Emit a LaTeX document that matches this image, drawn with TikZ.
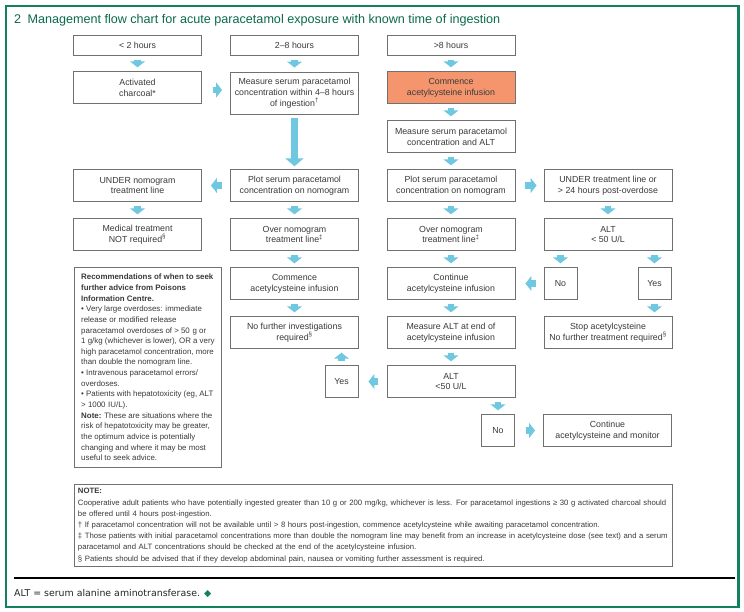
\documentclass[tikz,border=0pt]{standalone}
\usepackage{fontspec}
\setmainfont{Liberation Sans}
\newfontfamily\footfont{DejaVu Sans}
\usetikzlibrary{arrows.meta,calc}
\definecolor{frameg}{HTML}{13805F}
\definecolor{titleg}{HTML}{0B6A4E}
\definecolor{ablue}{HTML}{70C8E0}
\definecolor{boxline}{HTML}{707070}
\definecolor{txt}{HTML}{3A3A3A}
\definecolor{orangef}{HTML}{F5956E}
\begin{document}
\begin{tikzpicture}[x=1pt,y=-1pt,
  box/.style={draw=boxline, line width=0.9pt, fill=white, text=txt, align=center,
    minimum width=128pt, minimum height=31.5pt, inner sep=1pt,
    font=\fontsize{8.8}{10.8}\selectfont},
  smallbox/.style={box, minimum width=33pt},
  blk/.style={ablue, line width=6.5pt, -{Triangle[width=15pt,length=6pt]}},
  bigblk/.style={ablue, line width=7pt, -{Triangle[width=18pt,length=8pt]}},
  textbox/.style={draw=boxline, line width=0.9pt, fill=white, text=txt, align=left, anchor=north west}
]
\useasboundingbox (0,0) rectangle (744,611);
\fill[white] (0,0) rectangle (744,611);
% frame
\draw[frameg, line width=1.5pt] (6,6) rectangle (738,607);
\draw[frameg, line width=3pt] (738.5,5.25) -- (738.5,607.75);

\node[anchor=west, text=titleg, font=\fontsize{12.6}{14}\selectfont, inner sep=0pt] (title) at (14,20)
  {2\hspace{0.5em}Management flow chart for acute paracetamol exposure with known time of ingestion};

% row 1
\node[box, minimum height=20pt] (a1) at (137.5,45) {< 2 hours};
\node[box, minimum height=20pt] (b1) at (294.5,45) {2--8 hours};
\node[box, minimum height=20pt] (c1) at (451,45) {>8 hours};
% row 2
\node[box] (a2) at (137.5,87.5) {Activated\\charcoal*};
\node[box, minimum height=42pt] (b2) at (294.5,93) {Measure serum paracetamol\\concentration within 4--8 hours\\of ingestion\textsuperscript{†}};
\node[box, fill=orangef] (c2) at (451,87.5) {Commence\\acetylcysteine infusion};
% row 3
\node[box] (c3) at (451,136.5) {Measure serum paracetamol\\concentration and ALT};
% row 4
\node[box] (a4) at (137.5,185.5) {UNDER nomogram\\treatment line};
\node[box] (b4) at (294.5,185.5) {Plot serum paracetamol\\concentration on nomogram};
\node[box] (c4) at (451,185.5) {Plot serum paracetamol\\concentration on nomogram};
\node[box] (d4) at (608,185.5) {UNDER treatment line or\\> 24 hours post-overdose};
% row 5
\node[box] (a5) at (137.5,234.5) {Medical treatment\\NOT required\textsuperscript{§}};
\node[box] (b5) at (294.5,234.5) {Over nomogram\\treatment line\textsuperscript{‡}};
\node[box] (c5) at (451,234.5) {Over nomogram\\treatment line\textsuperscript{‡}};
\node[box] (d5) at (608,234.5) {ALT\\< 50 U/L};
% row 6
\node[box] (b6) at (294.5,283.5) {Commence\\acetylcysteine infusion};
\node[box] (c6) at (451,283.5) {Continue\\acetylcysteine infusion};
\node[smallbox] (no1) at (560.5,283.5) {No};
\node[smallbox] (yes1) at (654.5,283.5) {Yes};
% row 7
\node[box] (b7) at (294.5,332.5) {No further investigations\\required\textsuperscript{§}};
\node[box] (c7) at (451,332.5) {Measure ALT at end of\\acetylcysteine infusion};
\node[box] (d7) at (608,332.5) {Stop acetylcysteine\\No further treatment required\textsuperscript{§}};
% row 8
\node[smallbox] (yes2) at (341.5,381.5) {Yes};
\node[box] (c8) at (451,381.5) {ALT\\<50 U/L};
% row 9
\node[smallbox] (no2) at (498,430.5) {No};
\node[box] (cont) at (607.5,430.5) {Continue\\acetylcysteine and monitor};

% recommendations
\node[textbox, minimum width=147pt, minimum height=200pt, inner xsep=3pt, inner ysep=4pt,
  font=\fontsize{7.9}{10.65}\selectfont] (recs) at (74,267) {%
\textbf{Recommendations of when to seek}\\
\textbf{further advice from Poisons}\\
\textbf{Information Centre.}\\
• Very large overdoses: immediate\\
release or modified release\\
paracetamol overdoses of > 50\,\,g or\\
1 g/kg (whichever is lower), OR a very\\
high paracetamol concentration, more\\
than double the nomogram line.\\
• Intravenous paracetamol errors/\\
overdoses.\\
• Patients with hepatotoxicity (eg, ALT\\
> 1000\,\,IU/L).\\
\textbf{Note:} These are situations where the\\
risk of hepatotoxicity may be greater,\\
the optimum advice is potentially\\
changing and where it may be most\\
useful to seek advice.};

% note
\node[textbox, minimum width=598pt, minimum height=81pt, text width=591pt, inner xsep=3.5pt, inner ysep=4pt,
  font=\fontsize{7.75}{11.2}\selectfont] (note) at (74,484) {%
\textbf{NOTE:}\\
*Cooperative adult patients who have potentially ingested greater than 10\,\,g or 200 mg/kg, whichever is less. For paracetamol ingestions ≥ 30\,\,g activated charcoal should\\
be offered until 4 hours post-ingestion.\\
† If paracetamol concentration will not be available until > 8 hours post-ingestion, commence acetylcysteine while awaiting paracetamol concentration.\\
‡ Those patients with initial paracetamol concentrations more than double the nomogram line may benefit from an increase in acetylcysteine dose (see text) and a serum\\
paracetamol and ALT concentrations should be checked at the end of the acetylcysteine infusion.\\
§ Patients should be advised that if they develop abdominal pain, nausea or vomiting further assessment is required.};

% rule and footer
\draw[line width=1.5pt] (14,578) -- (735,578);
\node[anchor=west, inner sep=0pt, font=\footfont\fontsize{9.4}{11}\selectfont, text=black!85] (foot) at (14,593)
  {ALT = serum alanine aminotransferase. {\color{frameg}◆}};

% arrows
\draw[blk] ($(a1.south)+(0,4.5)$) -- ($(a2.north)+(0,-4)$);
\draw[blk] ($(b1.south)+(0,4.5)$) -- ($(b2.north)+(0,-4)$);
\draw[blk] ($(c1.south)+(0,4.5)$) -- ($(c2.north)+(0,-4)$);
\draw[blk] ($(a2.east)+(11,2.5)$) -- ($(b2.west |- a2.east)+(-8,2.5)$);
\draw[blk] ($(c2.south)+(0,4)$) -- ($(c3.north)+(0,-4)$);
\draw[blk] ($(c3.south)+(0,4)$) -- ($(c4.north)+(0,-4)$);
\draw[bigblk] ($(b2.south)+(0,4)$) -- ($(b4.north)+(0,-3)$);
\draw[blk] ($(b4.west)+(-8,0)$) -- ($(a4.east)+(9,0)$);
\draw[blk] ($(c4.east)+(10,0)$) -- ($(d4.west)+(-7,0)$);
\draw[blk] ($(a4.south)+(0,4)$) -- ($(a5.north)+(0,-4)$);
\draw[blk] ($(b4.south)+(0,4)$) -- ($(b5.north)+(0,-4)$);
\draw[blk] ($(c4.south)+(0,4)$) -- ($(c5.north)+(0,-4)$);
\draw[blk] ($(d4.south)+(0,4)$) -- ($(d5.north)+(0,-4)$);
\draw[blk] ($(b5.south)+(0,4)$) -- ($(b6.north)+(0,-4)$);
\draw[blk] ($(c5.south)+(0,4)$) -- ($(c6.north)+(0,-4)$);
\draw[blk] ($(no1.north |- d5.south)+(0,4)$) -- ($(no1.north)+(0,-4)$);
\draw[blk] ($(yes1.north |- d5.south)+(0,4)$) -- ($(yes1.north)+(0,-4)$);
\draw[blk] ($(no1.west)+(-8,0)$) -- ($(c6.east)+(10,0)$);
\draw[blk] ($(yes1.south)+(0,4)$) -- ($(yes1.south |- d7.north)+(0,-4)$);
\draw[blk] ($(b6.south)+(0,4)$) -- ($(b7.north)+(0,-4)$);
\draw[blk] ($(c6.south)+(0,4)$) -- ($(c7.north)+(0,-4)$);
\draw[blk] ($(c7.south)+(0,4)$) -- ($(c8.north)+(0,-4)$);
\draw[blk] ($(c8.west)+(-9,0)$) -- ($(yes2.east)+(10,0)$);
\draw[blk] ($(yes2.north)+(0,-4)$) -- ($(yes2.north |- b7.south)+(0,4)$);
\draw[blk] ($(no2.north |- c8.south)+(0,4)$) -- ($(no2.north)+(0,-4)$);
\draw[blk] ($(no2.east)+(11,0)$) -- ($(cont.west)+(-8,0)$);
\end{tikzpicture}
\end{document}
